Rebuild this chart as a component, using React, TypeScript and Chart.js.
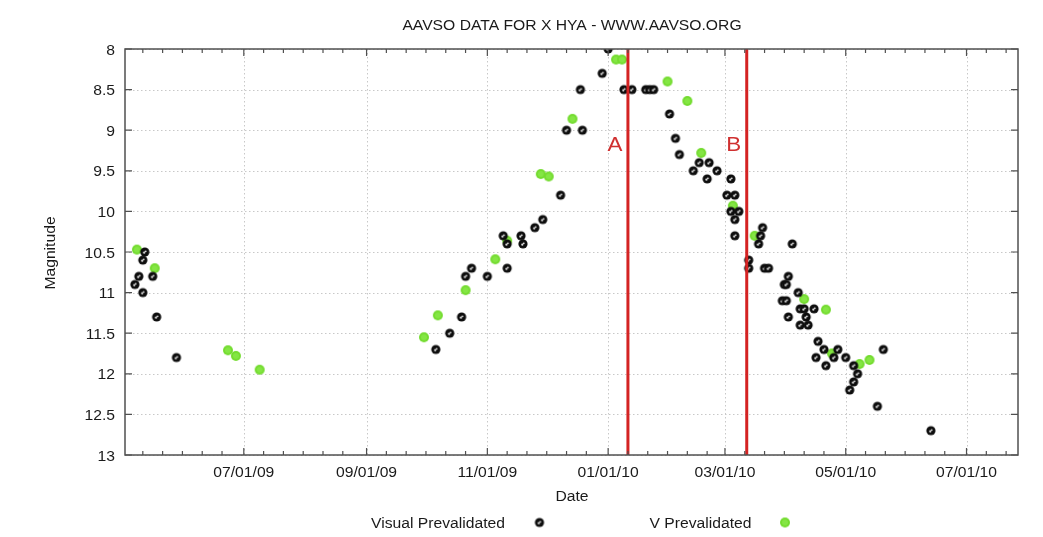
import React, { useEffect, useRef } from "react";
import { Chart, registerables } from "chart.js";

Chart.register(...registerables);

// ---------- data ----------
const visualDates = [
  "2009-05-07", "2009-05-09", "2009-05-11", "2009-05-11", "2009-05-12", "2009-05-16", "2009-05-18", "2009-05-28",
  "2009-10-06", "2009-10-13", "2009-10-19", "2009-10-21", "2009-10-24", "2009-11-01", "2009-11-09", "2009-11-11",
  "2009-11-11", "2009-11-18", "2009-11-19", "2009-11-25", "2009-11-29", "2009-12-08", "2009-12-11", "2009-12-18",
  "2009-12-19", "2009-12-29", "2010-01-01", "2010-01-09", "2010-01-13", "2010-01-20", "2010-01-22", "2010-01-24",
  "2010-02-01", "2010-02-04", "2010-02-06", "2010-02-13", "2010-02-16", "2010-02-20", "2010-02-21", "2010-02-25",
  "2010-03-02", "2010-03-04", "2010-03-04", "2010-03-06", "2010-03-06", "2010-03-06", "2010-03-08", "2010-03-13",
  "2010-03-13", "2010-03-18", "2010-03-19", "2010-03-20", "2010-03-21", "2010-03-23", "2010-03-30", "2010-03-31",
  "2010-04-01", "2010-04-01", "2010-04-02", "2010-04-02", "2010-04-04", "2010-04-07", "2010-04-08", "2010-04-08",
  "2010-04-10", "2010-04-11", "2010-04-12", "2010-04-15", "2010-04-16", "2010-04-17", "2010-04-20", "2010-04-21",
  "2010-04-25", "2010-04-27", "2010-05-01", "2010-05-03", "2010-05-05", "2010-05-05", "2010-05-07", "2010-05-17",
  "2010-05-20", "2010-06-13",
];
const visualMags = [
  10.9, 10.8, 10.6, 11.0, 10.5, 10.8, 11.3, 11.8,
  11.7, 11.5, 11.3, 10.8, 10.7, 10.8, 10.3, 10.7,
  10.4, 10.3, 10.4, 10.2, 10.1, 9.8, 9.0, 8.5,
  9.0, 8.3, 8.0, 8.5, 8.5, 8.5, 8.5, 8.5,
  8.8, 9.1, 9.3, 9.5, 9.4, 9.6, 9.4, 9.5,
  9.8, 9.6, 10.0, 9.8, 10.1, 10.3, 10.0, 10.6,
  10.7, 10.4, 10.3, 10.2, 10.7, 10.7, 11.1, 10.9,
  10.9, 11.1, 10.8, 11.3, 10.4, 11.0, 11.2, 11.4,
  11.2, 11.3, 11.4, 11.2, 11.8, 11.6, 11.7, 11.9,
  11.8, 11.7, 11.8, 12.2, 11.9, 12.1, 12.0, 12.4,
  11.7, 12.7,
];

const vDates = [
  "2009-05-08", "2009-05-17", "2009-06-23", "2009-06-27", "2009-07-09", "2009-09-30", "2009-10-07", "2009-10-21",
  "2009-11-05", "2009-11-11", "2009-11-28", "2009-12-02", "2009-12-14", "2010-01-05", "2010-01-08", "2010-01-31",
  "2010-02-10", "2010-02-17", "2010-03-05", "2010-03-16", "2010-04-10", "2010-04-21", "2010-04-24", "2010-05-08",
  "2010-05-13",
];
const vMags = [
  10.47, 10.7, 11.71, 11.78, 11.95, 11.55, 11.28, 10.97,
  10.59, 10.36, 9.54, 9.57, 8.86, 8.13, 8.13, 8.4,
  8.64, 9.28, 9.93, 10.3, 11.08, 11.21, 11.75, 11.88,
  11.83,
];

const xTickDates = ["2009-07-01", "2009-09-01", "2009-11-01", "2010-01-01", "2010-03-01", "2010-05-01", "2010-07-01"];
const xTickLabels = ["07/01/09", "09/01/09", "11/01/09", "01/01/10", "03/01/10", "05/01/10", "07/01/10"];
const minorBaseDates = ["2009-05-01", ...xTickDates];
const xRange = ["2009-05-02", "2010-07-27"];

const yTicks = [8, 8.5, 9, 9.5, 10, 10.5, 11, 11.5, 12, 12.5, 13];
const yTickLabels = ["8", "8.5", "9", "9.5", "10", "10.5", "11", "11.5", "12", "12.5", "13"];

const eventDates = ["2010-01-11", "2010-03-12"];
const eventLabels = ["A", "B"];

const TITLE = "AAVSO DATA FOR X HYA - WWW.AAVSO.ORG";
const X_TITLE = "Date";
const Y_TITLE = "Magnitude";
const SERIES_NAMES = ["Visual Prevalidated", "V Prevalidated"];

// ---------- helpers ----------
const BASE = Date.UTC(2009, 6, 1);
const dayOf = (s: string) => {
  const [y, m, d] = s.split("-").map(Number);
  return (Date.UTC(y, m - 1, d) - BASE) / 86400000;
};

const FONT = '14px "Liberation Sans", Arial, sans-serif';
const SX = 1.12;

function drawText(ctx: CanvasRenderingContext2D, text: string, x: number, y: number, align: CanvasTextAlign, rot = 0) {
  ctx.save();
  ctx.translate(x, y);
  if (rot) ctx.rotate(rot);
  ctx.scale(SX, 1);
  ctx.textAlign = align;
  ctx.textBaseline = "alphabetic";
  ctx.fillText(text, 0, 0);
  ctx.restore();
}

function makeBlackMarker() {
  const c = document.createElement("canvas");
  c.width = 12;
  c.height = 12;
  const g = c.getContext("2d")!;
  g.fillStyle = "#0d0d0d";
  g.beginPath();
  g.arc(6, 6, 4.6, 0, Math.PI * 2);
  g.fill();
  g.fillStyle = "rgba(255,255,255,0.9)";
  g.beginPath();
  g.arc(5.3, 6.7, 1.1, 0, Math.PI * 2);
  g.fill();
  g.beginPath();
  g.arc(6.8, 5.3, 0.9, 0, Math.PI * 2);
  g.fill();
  return c;
}

function makeGreenMarker() {
  const c = document.createElement("canvas");
  c.width = 12;
  c.height = 12;
  const g = c.getContext("2d")!;
  g.fillStyle = "#74dc30";
  g.beginPath();
  g.arc(6, 6, 5, 0, Math.PI * 2);
  g.fill();
  g.fillStyle = "#84e644";
  g.beginPath();
  g.arc(6, 6, 3, 0, Math.PI * 2);
  g.fill();
  return c;
}

export default function App() {
  const ref = useRef<HTMLCanvasElement | null>(null);

  useEffect(() => {
    if (!ref.current) return;
    const black = makeBlackMarker();
    const green = makeGreenMarker();

    const framePlugin = {
      id: "frame",
      beforeDatasetsDraw(chart: any) {
        const { ctx, chartArea: a, scales } = chart;
        const xs = scales.x, ys = scales.y;
        ctx.save();
        ctx.strokeStyle = "#c8c8c8";
        ctx.lineWidth = 1;
        ctx.setLineDash([1.5, 2.5]);
        xTickDates.forEach((d) => {
          const px = Math.round(xs.getPixelForValue(dayOf(d))) + 0.5;
          ctx.beginPath();
          ctx.moveTo(px, a.top);
          ctx.lineTo(px, a.bottom);
          ctx.stroke();
        });
        yTicks.forEach((v) => {
          const py = Math.round(ys.getPixelForValue(v)) + 0.5;
          ctx.beginPath();
          ctx.moveTo(a.left, py);
          ctx.lineTo(a.right, py);
          ctx.stroke();
        });
        ctx.setLineDash([]);
        ctx.restore();
      },
      afterDatasetsDraw(chart: any) {
        const { ctx, chartArea: a, scales } = chart;
        const xs = scales.x, ys = scales.y;
        ctx.save();
        ctx.strokeStyle = "#d42323";
        ctx.lineWidth = 3;
        eventDates.forEach((d, i) => {
          const px = xs.getPixelForValue(dayOf(d));
          ctx.beginPath();
          ctx.moveTo(px, a.top);
          ctx.lineTo(px, a.bottom);
          ctx.stroke();
          ctx.fillStyle = "#d03030";
          ctx.font = '20px "Liberation Sans", Arial, sans-serif';
          drawText(ctx, eventLabels[i], px - 13, 150.5, "center");
        });

        ctx.strokeStyle = "#505050";
        ctx.lineWidth = 1.5;
        ctx.strokeRect(a.left, a.top, a.right - a.left, a.bottom - a.top);

        ctx.lineWidth = 1.2;
        xTickDates.forEach((d) => {
          const px = xs.getPixelForValue(dayOf(d));
          ctx.beginPath();
          ctx.moveTo(px, a.bottom);
          ctx.lineTo(px, a.bottom - 7);
          ctx.moveTo(px, a.top);
          ctx.lineTo(px, a.top + 7);
          ctx.stroke();
        });
        minorBaseDates.forEach((d) => {
          for (let k = 1; k <= 5; k++) {
            const v = dayOf(d) + 10 * k;
            if (v <= xs.min || v >= xs.max) continue;
            const px = xs.getPixelForValue(v);
            ctx.beginPath();
            ctx.moveTo(px, a.bottom);
            ctx.lineTo(px, a.bottom - 4);
            ctx.moveTo(px, a.top);
            ctx.lineTo(px, a.top + 4);
            ctx.stroke();
          }
        });
        yTicks.forEach((v) => {
          const py = ys.getPixelForValue(v);
          ctx.beginPath();
          ctx.moveTo(a.left, py);
          ctx.lineTo(a.left + 7, py);
          ctx.moveTo(a.right, py);
          ctx.lineTo(a.right - 7, py);
          ctx.stroke();
        });

        ctx.fillStyle = "#1a1a1a";
        ctx.font = FONT;
        yTicks.forEach((v, i) => {
          drawText(ctx, yTickLabels[i], a.left - 10, ys.getPixelForValue(v) + 5.5, "right");
        });
        xTickDates.forEach((d, i) => {
          drawText(ctx, xTickLabels[i], xs.getPixelForValue(dayOf(d)), a.bottom + 22, "center");
        });
        drawText(ctx, TITLE, 572, 29.5, "center");
        drawText(ctx, X_TITLE, 572, 501, "center");
        drawText(ctx, Y_TITLE, 55, 253, "center", -Math.PI / 2);

        drawText(ctx, SERIES_NAMES[0], 505, 528, "right");
        drawText(ctx, SERIES_NAMES[1], 751.5, 528, "right");
        ctx.drawImage(black, 539.5 - 6, 522.5 - 6);
        ctx.drawImage(green, 785 - 6, 522.5 - 6);
        ctx.restore();
      },
    };

    const chart = new Chart(ref.current, {
      type: "scatter",
      data: {
        datasets: [
          {
            label: SERIES_NAMES[0],
            data: visualDates.map((d, i) => ({ x: dayOf(d), y: visualMags[i] })),
            pointStyle: black as any,
            pointRadius: 5,
          },
          {
            label: SERIES_NAMES[1],
            data: vDates.map((d, i) => ({ x: dayOf(d), y: vMags[i] })),
            pointStyle: green as any,
            pointRadius: 5,
          },
        ],
      },
      options: {
        animation: false,
        responsive: true,
        maintainAspectRatio: false,
        layout: { padding: { left: 0, right: 25, top: 49, bottom: 0 } },
        plugins: { legend: { display: false }, title: { display: false }, tooltip: { enabled: false } },
        events: [],
        scales: {
          x: {
            type: "linear",
            min: dayOf(xRange[0]),
            max: dayOf(xRange[1]),
            ticks: { display: false },
            grid: { display: false },
            border: { display: false },
            afterFit: (s: any) => {
              s.height = 82;
            },
          },
          y: {
            type: "linear",
            min: 8,
            max: 13,
            reverse: true,
            ticks: { display: false, stepSize: 0.5 },
            grid: { display: false },
            border: { display: false },
            afterFit: (s: any) => {
              s.width = 125;
            },
          },
        },
      },
      plugins: [framePlugin],
    });
    return () => chart.destroy();
  }, []);

  return (
    <div style={{ position: "fixed", left: 0, top: 0, width: 1043, height: 537, background: "#fff" }}>
      <canvas ref={ref} />
    </div>
  );
}
